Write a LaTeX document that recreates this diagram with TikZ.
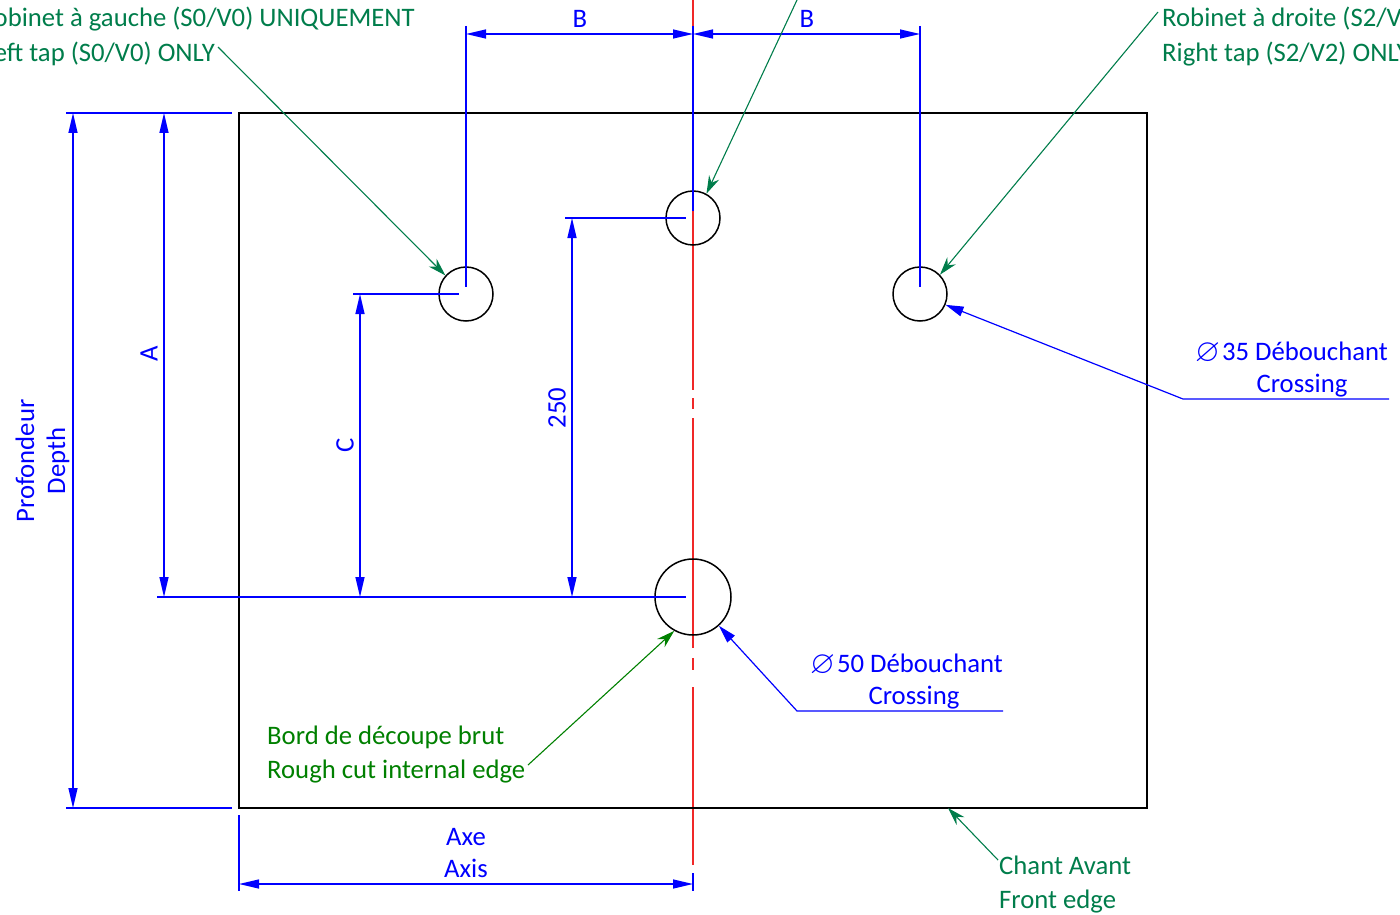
\documentclass[tikz,border=0pt]{standalone}
\usepackage{amssymb}
\usepackage{fontspec}
\setmainfont{Carlito}
\usetikzlibrary{arrows.meta,positioning,calc}
\definecolor{dimblue}{RGB}{0,0,255}
\definecolor{leadteal}{RGB}{0,125,75}
\definecolor{leadgreen}{RGB}{0,128,0}
\definecolor{axisred}{RGB}{240,40,40}
\newcommand{\diam}{\raisebox{-1.5pt}{\scalebox{1.2}{$\varnothing$}}}
\tikzset{
    hole/.style={draw=black, line width=1.5pt, circle, inner sep=0pt, fill=none},
    dimline/.style={draw=dimblue, line width=1.3pt, {Triangle[length=20pt,width=9pt]}-{Triangle[length=20pt,width=9pt]}},
    extline/.style={draw=dimblue, line width=1.3pt},
    leadblue/.style={draw=dimblue, line width=1.2pt, -{Triangle[length=18pt,width=10pt]}},
    leadtealarrow/.style={draw=leadteal, line width=1.1pt, -{Stealth[length=18pt,width=11pt]}},
    leadgreenarrow/.style={draw=leadgreen, line width=1.1pt, -{Stealth[length=18pt,width=11pt]}},
    txtblue/.style={text=dimblue, inner sep=0pt, font=\fontsize{26.7}{30}\selectfont},
    txtteal/.style={text=leadteal, inner sep=0pt, font=\fontsize{26.7}{30}\selectfont},
    txtgreen/.style={text=leadgreen, inner sep=0pt, font=\fontsize{26.7}{30}\selectfont},
    axisline/.style={draw=axisred, line width=1.2pt}
}
\begin{document}
\begin{tikzpicture}[x=1pt,y=-1pt]
    \useasboundingbox (0,0) rectangle (1400,915);

    % axis
    \coordinate (axA) at (693,0);
    \coordinate (axB) at (693,390);
    \coordinate (axC) at (693,398);
    \coordinate (axD) at (693,409);
    \coordinate (axE) at (693,418);
    \coordinate (axF) at (693,648);
    \coordinate (axG) at (693,658);
    \coordinate (axH) at (693,670);
    \coordinate (axI) at (693,687);
    \coordinate (axJ) at (693,865);
    \draw[axisline] (axA) -- (axB);
    \draw[axisline] (axC) -- (axD);
    \draw[axisline] (axE) -- (axF);
    \draw[axisline] (axG) -- (axH);
    \draw[axisline] (axI) -- (axJ);

    % plate and holes
    \node[draw=black, line width=1.7pt, minimum width=908pt, minimum height=695pt, inner sep=0pt] (plate) at (693,460.5) {};
    \node[hole, minimum size=54pt] (holeleft) at (466,294) {};
    \node[hole, minimum size=54pt] (holemid) at (693,218) {};
    \node[hole, minimum size=54pt] (holeright) at (920,294) {};
    \node[hole, minimum size=76pt] (holebig) at (693,597) {};

    % extension lines
    \coordinate (topL) at (466,26);
    \coordinate (topM) at (693,26);
    \coordinate (topR) at (920,26);
    \coordinate (endL) at (466,287);
    \coordinate (endM) at (693,211);
    \coordinate (endR) at (920,287);
    \draw[extline] (topL) -- (endL);
    \draw[extline, line width=2pt] (topM) -- (endM);
    \draw[extline] (topR) -- (endR);

    \coordinate (depthTa) at (66,113);
    \coordinate (depthTb) at (232,113);
    \coordinate (depthBa) at (66,808);
    \coordinate (depthBb) at (232,808);
    \coordinate (bigA) at (157,597);
    \coordinate (bigB) at (686,597);
    \coordinate (leftA) at (353,294);
    \coordinate (leftB) at (459,294);
    \coordinate (midA) at (565,218);
    \coordinate (midB) at (686,218);
    \draw[extline] (depthTa) -- (depthTb);
    \draw[extline] (depthBa) -- (depthBb);
    \draw[extline, line width=1.6pt] (bigA) -- (bigB);
    \draw[extline] (leftA) -- (leftB);
    \draw[extline] (midA) -- (midB);

    \coordinate (axisA) at (239,815);
    \coordinate (axisB) at (239,891);
    \coordinate (axisC) at (693,873);
    \coordinate (axisD) at (693,891);
    \draw[extline] (axisA) -- (axisB);
    \draw[extline] (axisC) -- (axisD);

    % dimensions
    \coordinate (dBa) at (466,34);
    \coordinate (dBb) at (693,34);
    \coordinate (dBc) at (920,34);
    \draw[dimline] (dBa) -- (dBb);
    \draw[dimline] (dBb) -- (dBc);
    \coordinate (dDa) at (73,113);
    \coordinate (dDb) at (73,808);
    \draw[dimline] (dDa) -- (dDb);
    \coordinate (dAa) at (164,113);
    \coordinate (dAb) at (164,597);
    \draw[dimline] (dAa) -- (dAb);
    \coordinate (dCa) at (360,294);
    \coordinate (dCb) at (360,597);
    \draw[dimline] (dCa) -- (dCb);
    \coordinate (dFa) at (572,218);
    \coordinate (dFb) at (572,597);
    \draw[dimline] (dFa) -- (dFb);
    \coordinate (dXa) at (239,884);
    \coordinate (dXb) at (693,884);
    \draw[dimline] (dXa) -- (dXb);

    % dimension labels
    \node[txtblue, anchor=base] (labB1) at (580,28) {B};
    \node[txtblue, anchor=base] (labB2) at (807,28) {B};
    \node[txtblue, rotate=90] (labA) at (149,354) {A};
    \node[txtblue, rotate=90] (labC) at (345,445) {C};
    \node[txtblue, rotate=90] (lab250) at (557,408) {250};
    \node[txtblue, rotate=90] (labProf) at (25,461) {Profondeur};
    \node[txtblue, rotate=90] (labDepth) at (58,461) {Depth};
    \node[txtblue, anchor=base] (labAxe) at (466,845) {Axe};
    \node[txtblue, anchor=base] (labAxis) at (466,877) {Axis};

    % green leaders
    \node[txtteal, anchor=base east] (tapLfr) at (415,27) {Robinet à gauche (S0/V0) UNIQUEMENT};
    \node[txtteal, anchor=base east] (tapLen) at (215,62) {Left tap (S0/V0) ONLY};
    \node[txtteal, anchor=base west] (tapRfr) at (1162,27) {Robinet à droite (S2/V2) UNIQUEMENT};
    \node[txtteal, anchor=base west] (tapRen) at (1162,62) {Right tap (S2/V2) ONLY};
    \node[txtgreen, anchor=base west] (cutfr) at (267,744) {Bord de découpe brut};
    \node[txtgreen, anchor=base west] (cuten) at (267,778) {Rough cut internal edge};
    \node[txtteal, anchor=base west] (frontfr) at (999,874) {Chant Avant};
    \node[txtteal, anchor=base west] (fronten) at (999,908) {Front edge};

    \coordinate (leadL) at (218,47);
    \coordinate (leadM) at (797,0);
    \coordinate (leadR) at (1158,12);
    \coordinate (leadC) at (528,765);
    \coordinate (leadF) at (998,860);
    \coordinate (frontpt) at (948,808);
    \draw[leadtealarrow] (leadL) -- (holeleft.138);
    \draw[leadtealarrow] (leadM) -- (holemid.61);
    \draw[leadtealarrow] (leadR) -- (holeright.44);
    \draw[leadgreenarrow] (leadC) -- (holebig.241);
    \draw[leadtealarrow] (leadF) -- (frontpt);

    % blue leaders
    \node[txtblue, anchor=base east] (d35fr) at (1388,360) {\diam\kern2pt 35 Débouchant};
    \node[txtblue, anchor=base] (d35en) at (1302,392) {Crossing};
    \node[txtblue, anchor=base east] (d50fr) at (1003,672) {\diam\kern2pt 50 Débouchant};
    \node[txtblue, anchor=base] (d50en) at (914,704) {Crossing};
    \coordinate (sh35a) at (1389,399);
    \coordinate (sh35b) at (1183,399);
    \coordinate (sh50a) at (1003,711);
    \coordinate (sh50b) at (797,711);
    \draw[leadblue] (sh35a) -- (sh35b) -- (holeright.-23);
    \draw[leadblue] (sh50a) -- (sh50b) -- (holebig.-48);
\end{tikzpicture}
\end{document}
